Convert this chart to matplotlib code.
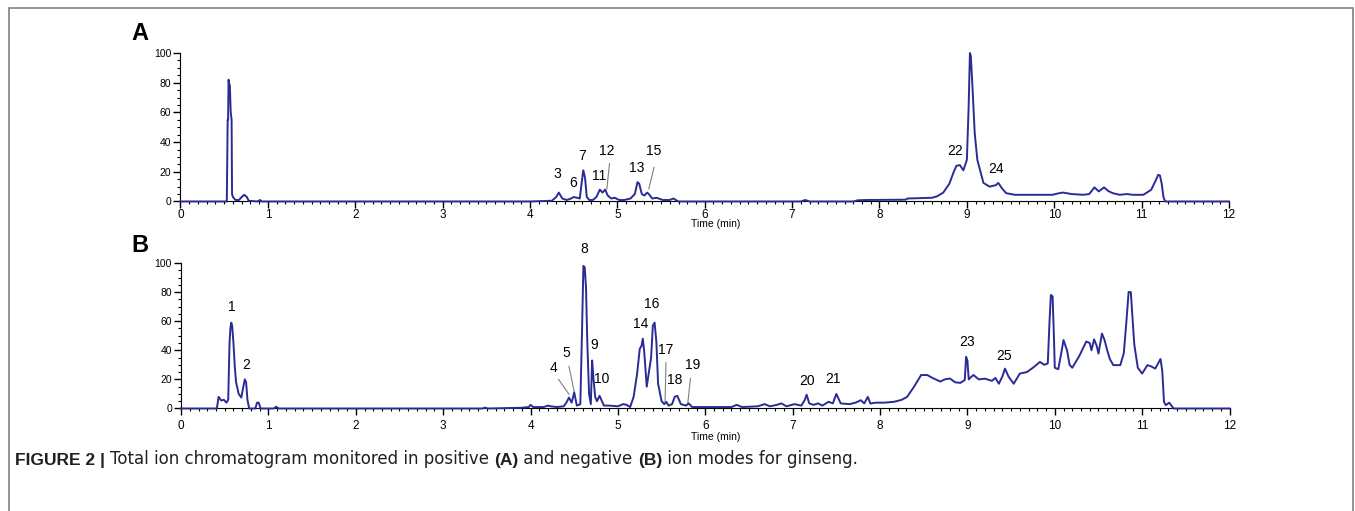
import matplotlib
matplotlib.use("Agg")
import matplotlib.pyplot as plt
from matplotlib.patches import Rectangle
from matplotlib.ticker import MultipleLocator

plt.rcParams["font.family"] = ["Liberation Sans", "DejaVu Sans"]

# positive ion mode (A): retention time (min) / relative abundance (%)
time_a = [0, 0.53, 0.54, 0.545, 0.55, 0.555, 0.565, 0.575, 0.585, 0.59,
          0.60, 0.63, 0.67, 0.70, 0.73, 0.76, 0.78, 0.88, 0.91, 0.93,
          4.0, 4.25, 4.30, 4.33, 4.37, 4.42, 4.47, 4.50, 4.54, 4.57,
          4.59, 4.61, 4.63, 4.65, 4.68, 4.72, 4.76, 4.80, 4.83, 4.86,
          4.89, 4.93, 4.97, 5.02, 5.08, 5.15, 5.20, 5.23, 5.25, 5.28,
          5.31, 5.34, 5.36, 5.40, 5.45, 5.52, 5.60, 5.64, 5.70, 7.10,
          7.15, 7.20, 7.70, 7.75, 7.85, 8.30, 8.32, 8.60, 8.66, 8.73,
          8.80, 8.85, 8.88, 8.92, 8.96, 9.00, 9.02, 9.035, 9.045, 9.06,
          9.09, 9.12, 9.19, 9.26, 9.33, 9.36, 9.40, 9.45, 9.55, 9.65,
          9.98, 10.05, 10.10, 10.20, 10.33, 10.40, 10.46, 10.51, 10.57, 10.62,
          10.67, 10.75, 10.83, 10.90, 11.02, 11.11, 11.16, 11.19, 11.21, 11.23,
          11.25, 11.27, 12]
signal_a = [0, 0, 55, 55, 82, 80, 78, 60, 55, 5,
            3, 1, 1, 3, 4.5, 3, 0.5, 0, 1, 0,
            0, 0.5, 3, 6, 2, 1, 2, 3, 2.5, 2,
            12, 21, 16, 3, 1, 1, 3, 8, 6, 8,
            4, 2, 2.5, 1, 1, 2, 5, 13, 12, 5,
            4, 6, 5, 2, 2.5, 1, 1, 2, 0, 0,
            1, 0, 0, 0.8, 1, 1.2, 2, 2.5, 3.5, 6,
            12, 20, 24, 24.5, 21, 28, 63, 100, 98, 82,
            46, 28, 12.5, 10, 11, 12.5, 9, 5.6, 4.5, 4.5,
            4.5, 5.5, 6, 5, 4.5, 5, 9.5, 6.8, 9.5, 7,
            5.6, 4.5, 5, 4.5, 4.5, 7.9, 14, 18, 17.5, 12,
            3, 0, 0]

# negative ion mode (B)
time_b = [0, 0.41, 0.43, 0.46, 0.49, 0.52, 0.54, 0.555, 0.565, 0.575,
          0.585, 0.60, 0.615, 0.63, 0.66, 0.69, 0.71, 0.73, 0.745, 0.76,
          0.78, 0.85, 0.87, 0.89, 0.91, 1.06, 1.09, 1.12, 3.45, 3.48,
          3.51, 3.90, 3.98, 4.00, 4.03, 4.15, 4.20, 4.23, 4.30, 4.38,
          4.41, 4.44, 4.47, 4.50, 4.53, 4.57, 4.59, 4.605, 4.62, 4.635,
          4.65, 4.67, 4.69, 4.705, 4.72, 4.74, 4.76, 4.79, 4.81, 4.84,
          4.90, 5.00, 5.06, 5.10, 5.14, 5.18, 5.22, 5.25, 5.27, 5.285,
          5.30, 5.33, 5.35, 5.38, 5.40, 5.42, 5.44, 5.46, 5.50, 5.53,
          5.555, 5.58, 5.62, 5.65, 5.68, 5.72, 5.78, 5.81, 5.85, 6.00,
          6.30, 6.36, 6.42, 6.60, 6.68, 6.74, 6.82, 6.87, 6.93, 7.02,
          7.10, 7.14, 7.16, 7.19, 7.24, 7.29, 7.34, 7.41, 7.46, 7.50,
          7.55, 7.65, 7.72, 7.78, 7.82, 7.86, 7.89, 7.95, 8.05, 8.16,
          8.25, 8.31, 8.39, 8.47, 8.54, 8.60, 8.69, 8.74, 8.80, 8.86,
          8.92, 8.97, 8.985, 9.00, 9.015, 9.03, 9.07, 9.13, 9.20, 9.28,
          9.32, 9.36, 9.40, 9.43, 9.47, 9.53, 9.60, 9.68, 9.75, 9.83,
          9.88, 9.92, 9.94, 9.955, 9.975, 9.99, 10.00, 10.04, 10.08, 10.10,
          10.14, 10.17, 10.20, 10.28, 10.36, 10.40, 10.42, 10.45, 10.48, 10.50,
          10.54, 10.57, 10.60, 10.63, 10.67, 10.75, 10.79, 10.82, 10.845, 10.87,
          10.89, 10.91, 10.95, 11.00, 11.06, 11.10, 11.15, 11.21, 11.23, 11.25,
          11.27, 11.31, 11.36, 12]
signal_b = [0, 0, 8, 5.5, 6, 4, 6, 45, 55, 59,
            57, 45, 29, 18, 10, 7.5, 14, 20, 18, 6,
            0, 0, 4, 4, 0, 0, 1.2, 0, 0, 0.6,
            0, 0.5, 1, 2.5, 1, 1, 2, 1.5, 1, 1.5,
            4, 7.5, 4, 11, 2, 3, 55, 98, 97, 83,
            45, 10, 3, 33, 21, 8, 5, 8.7, 6, 2,
            2, 1.5, 3, 2.5, 1, 8, 24, 41, 43, 48,
            40, 15, 23, 35, 57, 59, 46, 17, 5, 3,
            4.5, 2, 3, 8, 8.7, 3, 2, 3.5, 1, 1,
            1, 2.5, 1, 1.5, 3, 1.5, 2.5, 3.5, 1.5, 3,
            2, 6, 9.5, 3.5, 2.5, 3.5, 2, 4.6, 3.5, 10,
            3.5, 3, 4, 5.7, 3.5, 8, 3.4, 4, 4, 4.6,
            6, 8, 15, 23, 23, 21, 18.5, 20, 20.6, 18,
            17.6, 19.6, 35.5, 33, 20, 21, 23, 20, 20.5, 19,
            21, 17, 22, 27.4, 22, 17, 24, 25, 28, 32,
            30, 31, 60, 78, 77, 50, 28, 27, 40, 47,
            40, 30, 28, 36, 46, 45, 40, 47.5, 43, 37.7,
            51.5, 47, 40, 34, 29.8, 29.8, 38, 60, 80, 80,
            62, 44, 28, 24, 29.8, 29, 27.4, 34, 26, 4.6,
            2.3, 4, 0, 0]

# peak labels: number, time, abundance where the label sits
peaks_a = [("3", 4.31, 14), ("6", 4.49, 8), ("7", 4.6, 26), ("11", 4.79, 12.5),
           ("12", 4.88, 29.5), ("13", 5.22, 18), ("15", 5.42, 29.5),
           ("22", 8.87, 29.5), ("24", 9.33, 17)]
peaks_b = [("1", 0.58, 65), ("2", 0.745, 25), ("4", 4.26, 23), ("5", 4.405, 33),
           ("8", 4.62, 105), ("9", 4.725, 39), ("10", 4.82, 15.5),
           ("14", 5.26, 53.5), ("16", 5.39, 67), ("17", 5.55, 35.5),
           ("18", 5.65, 15), ("19", 5.86, 25), ("20", 7.16, 14),
           ("21", 7.46, 15.5), ("23", 9.0, 41), ("25", 9.42, 31.5)]
# leader lines: (t0, v0) -> (t1, v1)
leaders_a = [((4.91, 25.5), (4.88, 8.5)), ((5.42, 23), (5.36, 8.5))]
leaders_b = [((4.32, 20), (4.44, 9.8)), ((4.44, 29), (4.50, 11.5)),
             ((5.55, 31.5), (5.54, 4.7)), ((5.83, 20.7), (5.80, 3.6))]

line_color = "#2b2b96"

fig = plt.figure(figsize=(13.55, 5.11), dpi=100)
fig.add_artist(Rectangle((9 / 1355, -0.1), 1344 / 1355, 1.1 - 8 / 511,
                         transform=fig.transFigure, fill=False,
                         edgecolor="#808080", linewidth=1.2))

ax_a = fig.add_axes([0.1332, 0.6057, 0.7738, 0.2906])
ax_b = fig.add_axes([0.1336, 0.2006, 0.7738, 0.2848])


def style(ax, pad):
    ax.set_xlim(0, 12)
    ax.set_ylim(0, 100)
    for s in ("top", "right"):
        ax.spines[s].set_visible(False)
    ax.xaxis.set_major_locator(MultipleLocator(1))
    ax.xaxis.set_minor_locator(MultipleLocator(0.1))
    ax.yaxis.set_major_locator(MultipleLocator(20))
    ax.yaxis.set_minor_locator(MultipleLocator(5))
    ax.tick_params(which="major", length=5, width=1, direction="out")
    ax.tick_params(which="minor", length=2.5, width=0.8, direction="out")
    ax.tick_params(axis="x", labelsize=8.5, pad=pad)
    ax.tick_params(axis="y", labelsize=7.5, pad=1.5)


for ax, t, v, peaks, leaders, pad, ty in (
        (ax_a, time_a, signal_a, peaks_a, leaders_a, 0.5, -0.12),
        (ax_b, time_b, signal_b, peaks_b, leaders_b, 3, -0.16)):
    style(ax, pad)
    ax.plot(t, v, color=line_color, linewidth=1.4, clip_on=False, zorder=3)
    for name, x, y in peaks:
        ax.text(x, y, name, ha="center", va="bottom", fontsize=10,
                clip_on=False)
    for (x0, y0), (x1, y1) in leaders:
        ax.plot([x0, x1], [y0, y1], color="#808080", linewidth=0.8,
                clip_on=False)
    ax.text(0.51, ty, "Time (min)", transform=ax.transAxes, ha="center",
            va="top", fontsize=7.5)

fig.text(131 / 1355, 1 - 34 / 511, "A", fontsize=17, fontweight="bold",
         va="center", ha="left")
fig.text(131 / 1355, 1 - 245 / 511, "B", fontsize=17, fontweight="bold",
         va="center", ha="left")

caption = [("FIGURE 2 | ", "bold"),
           ("Total ion chromatogram monitored in positive ", "normal"),
           ("(A)", "bold"), (" and negative ", "normal"), ("(B)", "bold"),
           (" ion modes for ginseng.", "normal")]


def cap_font(w):
    if w == "bold":
        return dict(family="Liberation Sans", fontsize=12.5, fontweight="bold")
    return dict(family="DejaVu Sans", fontsize=12, fontweight="normal")


prev = fig.text(15 / 1355, 1 - 460 / 511, caption[0][0], va="center",
                ha="left", color="#231f20", **cap_font(caption[0][1]))
for txt, w in caption[1:]:
    prev = ax_b.annotate(txt, xy=(1, 0), xycoords=prev, ha="left",
                         va="bottom", color="#231f20",
                         annotation_clip=False, **cap_font(w))

fig.savefig("out.png", dpi=100)
